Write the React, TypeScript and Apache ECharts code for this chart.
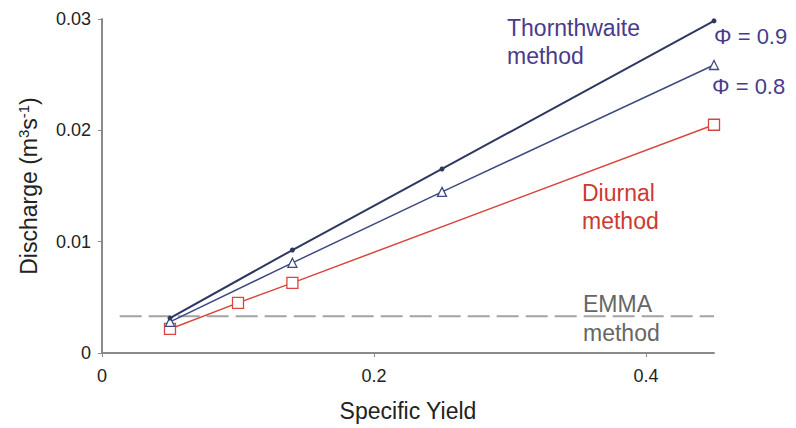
import React, { useEffect, useRef } from "react";
import * as echarts from "echarts";

const xThorn = [0.05, 0.14, 0.25, 0.45];
const thorn09 = [0.00314, 0.00925, 0.01653, 0.02983];
const thorn08 = [0.0028, 0.0081, 0.01447, 0.02587];
const xDiurnal = [0.05, 0.1, 0.14, 0.45];
const diurnal = [0.00216, 0.0045, 0.0063, 0.0205];
const emmaX = [0.013, 0.45];
const emmaValue = 0.0033;

const FONT = "Liberation Sans, Arial, sans-serif";

export default function App() {
  const ref = useRef<HTMLDivElement>(null);
  useEffect(() => {
    if (!ref.current) return;
    const chart = echarts.init(ref.current, undefined, { renderer: "svg" });
    const pair = (xs: number[], ys: number[]) => xs.map((x, i) => [x, ys[i]]);
    chart.setOption({
      animation: false,
      textStyle: { fontFamily: FONT },
      grid: { left: 91, right: 82, top: 11, bottom: 75 },
      xAxis: {
        type: "value",
        min: 0,
        max: 0.45,
        interval: 0.2,
        name: "Specific Yield",
        nameLocation: "middle",
        nameGap: 46,
        nameTextStyle: { fontSize: 23, color: "#222", fontFamily: FONT },
        axisLine: { show: true, lineStyle: { color: "#8a8a8a", width: 2 } },
        axisTick: { show: true, length: 4, lineStyle: { color: "#8a8a8a" } },
        axisLabel: { fontSize: 18, color: "#222", margin: 14, formatter: (v: number) => (v === 0 ? "0" : String(+v.toFixed(2))), showMaxLabel: false },
        splitLine: { show: false },
      },
      yAxis: {
        type: "value",
        min: 0,
        max: 0.03,
        interval: 0.01,
        name: "{a|Discharge (m}{s|3}{a|s}{s|-1}{a|)}",
        nameLocation: "middle",
        nameGap: 60,
        nameTextStyle: {
          fontFamily: FONT,
          rich: {
            a: { fontSize: 23, color: "#222", fontFamily: FONT, lineHeight: 26 },
            s: { fontSize: 15, color: "#222", fontFamily: FONT, verticalAlign: "top", lineHeight: 26 },
          },
        },
        axisLine: { show: true, lineStyle: { color: "#8a8a8a", width: 2 } },
        axisTick: { show: true, length: 4, lineStyle: { color: "#8a8a8a" } },
        axisLabel: { fontSize: 18, color: "#222", margin: 11, formatter: (v: number) => (v === 0 ? "0" : String(+v.toFixed(3))) },
        splitLine: { show: false },
      },
      series: [
        {
          name: "EMMA",
          type: "line",
          data: emmaX.map((x) => [x, emmaValue]),
          symbol: "none",
          lineStyle: { color: "#a3a3a3", width: 2, type: [22, 7] },
          z: 1,
        },
        {
          name: "Φ = 0.9",
          type: "line",
          data: pair(xThorn, thorn09),
          symbol: "circle",
          symbolSize: 5,
          itemStyle: { color: "#2e3760" },
          lineStyle: { color: "#2e3760", width: 2 },
          z: 4,
        },
        {
          name: "Φ = 0.8",
          type: "line",
          data: pair(xThorn, thorn08),
          symbol: "triangle",
          symbolSize: 9,
          itemStyle: { color: "#fff", borderColor: "#3d4a80", borderWidth: 1.3 },
          lineStyle: { color: "#3d4a80", width: 1.5 },
          z: 3,
        },
        {
          name: "Diurnal",
          type: "line",
          data: pair(xDiurnal, diurnal),
          symbol: "rect",
          symbolSize: 11,
          itemStyle: { color: "#fff", borderColor: "#d9463e", borderWidth: 1.3 },
          lineStyle: { color: "#d9463e", width: 1.5 },
          z: 2,
        },
      ],
      graphic: [
        { type: "text", left: 499, top: 6, style: { text: "Thornthwaite\nmethod", font: `23px ${FONT}`, fill: "#4a3a8c", lineHeight: 28 } },
        { type: "text", left: 706, top: 17, style: { text: "Φ = 0.9", font: `22px ${FONT}`, fill: "#4a3a8c" } },
        { type: "text", left: 704, top: 67, style: { text: "Φ = 0.8", font: `22px ${FONT}`, fill: "#4a3a8c" } },
        { type: "text", left: 574, top: 171, style: { text: "Diurnal\nmethod", font: `23px ${FONT}`, fill: "#cc3a33", lineHeight: 28 } },
        { type: "text", left: 575, top: 281, style: { text: "EMMA\nmethod", font: `23px ${FONT}`, fill: "#666", lineHeight: 29 } },
      ],
    });
    return () => chart.dispose();
  }, []);
  return <div ref={ref} style={{ width: 788, height: 420 }} />;
}
